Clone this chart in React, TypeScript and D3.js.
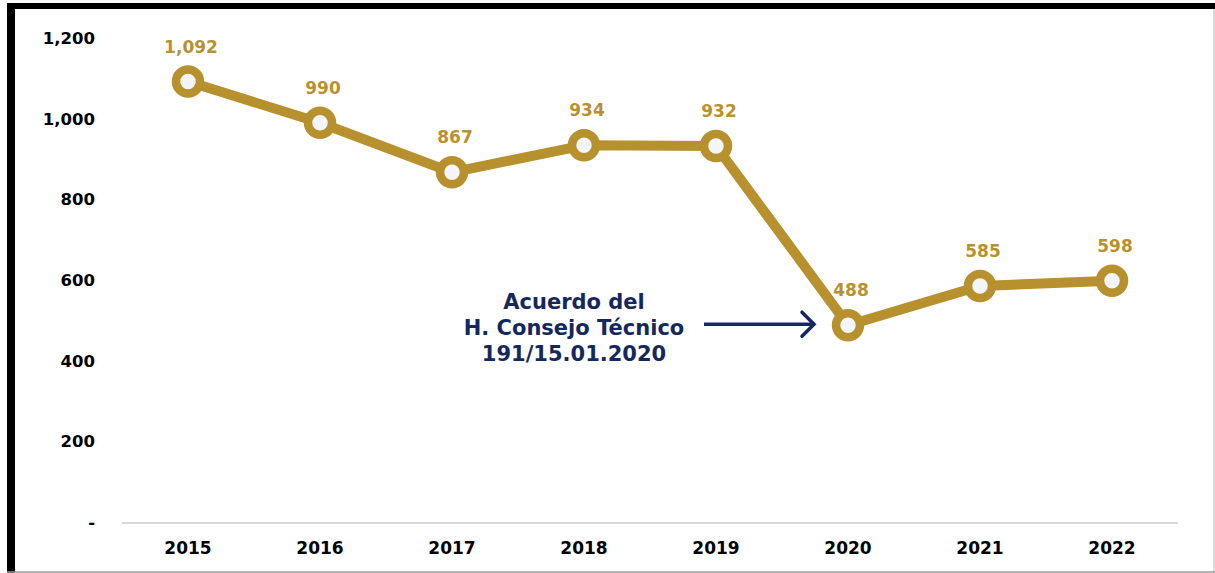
import React from "react";
import * as d3 from "d3";

const years = ["2015", "2016", "2017", "2018", "2019", "2020", "2021", "2022"];
const values = [1092, 990, 867, 934, 932, 488, 585, 598];
const yTicks = [0, 200, 400, 600, 800, 1000, 1200];
const annotationLines = ["Acuerdo del", "H. Consejo Técnico", "191/15.01.2020"];

const W = 1215;
const H = 573;
const GOLD = "#b8912f";
const NAVY = "#14285e";
const FONT = "'DejaVu Sans', sans-serif";

export default function App() {
  const x = d3.scaleBand<string>().domain(years).range([122, 1178]).padding(0);
  const y = d3.scaleLinear().domain([0, 1200]).range([522, 38]);
  const cx = (d: string) => (x(d) as number) + x.bandwidth() / 2;
  const line = d3
    .line<number>()
    .x((_, i) => cx(years[i]))
    .y((v) => y(v));
  const fmt = d3.format(",");

  const p2020 = { x: cx("2020"), y: y(488) };

  return (
    <svg
      width={W}
      height={H}
      style={{ position: "absolute", left: 0, top: 0, background: "#fff" }}
    >
      {/* frame */}
      <rect x={0} y={0} width={W} height={H} fill="#fff" />
      <line x1={7} y1={6} x2={W} y2={6} stroke="#000" strokeWidth={6} />
      <line x1={11} y1={3} x2={11} y2={H} stroke="#000" strokeWidth={8} />
      <line x1={W - 1} y1={9} x2={W - 1} y2={H} stroke="#cfcfcf" strokeWidth={1.5} />
      <line x1={7} y1={H - 1} x2={W} y2={H - 1} stroke="#9a9a9a" strokeWidth={1.5} />

      {/* baseline */}
      <line x1={122} y1={y(0) + 1} x2={1178} y2={y(0) + 1} stroke="#d9d9d9" strokeWidth={2} />

      {/* y tick labels */}
      {yTicks.map((t) => (
        <text
          key={t}
          x={95}
          y={y(t)}
          dy="0.36em"
          textAnchor="end"
          fontFamily={FONT}
          fontWeight={700}
          fontSize={16.5}
          fill="#000"
        >
          {t === 0 ? "-" : fmt(t)}
        </text>
      ))}

      {/* x labels */}
      {years.map((yr) => (
        <text
          key={yr}
          x={cx(yr)}
          y={554}
          textAnchor="middle"
          fontFamily={FONT}
          fontWeight={700}
          fontSize={17}
          fill="#000"
        >
          {yr}
        </text>
      ))}

      {/* line */}
      <path
        d={line(values) || ""}
        fill="none"
        stroke={GOLD}
        strokeWidth={10}
        strokeLinejoin="round"
      />
      {values.map((v, i) => (
        <circle
          key={i}
          cx={cx(years[i])}
          cy={y(v)}
          r={12}
          fill="#f3f5f9"
          stroke={GOLD}
          strokeWidth={8.5}
        />
      ))}

      {/* data labels */}
      {values.map((v, i) => (
        <text
          key={i}
          x={cx(years[i]) + 3}
          y={y(v) - 29}
          textAnchor="middle"
          fontFamily={FONT}
          fontWeight={700}
          fontSize={17}
          fill={GOLD}
        >
          {fmt(v)}
        </text>
      ))}

      {/* annotation */}
      {annotationLines.map((l, i) => (
        <text
          key={i}
          x={574}
          y={309 + i * 26}
          textAnchor="middle"
          fontFamily={FONT}
          fontWeight={700}
          fontSize={21}
          fill={NAVY}
        >
          {l}
        </text>
      ))}
      <line
        x1={704}
        y1={p2020.y - 1}
        x2={p2020.x - 34}
        y2={p2020.y - 1}
        stroke={NAVY}
        strokeWidth={3.5}
      />
      <path
        d={`M${p2020.x - 46},${p2020.y - 13} L${p2020.x - 34},${p2020.y - 1} L${p2020.x - 46},${p2020.y + 11}`}
        fill="none"
        stroke={NAVY}
        strokeWidth={3.5}
        strokeLinecap="round"
        strokeLinejoin="miter"
      />
    </svg>
  );
}
